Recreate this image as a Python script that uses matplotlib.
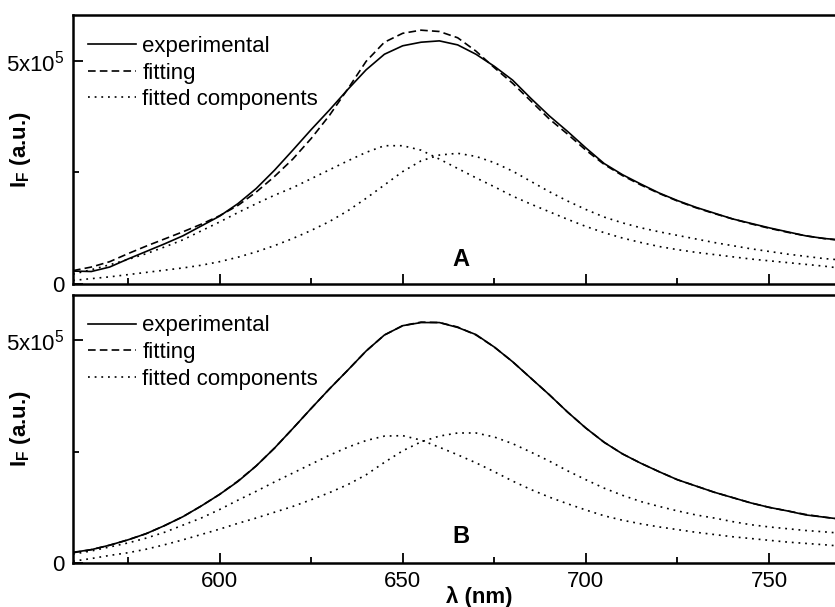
import matplotlib
matplotlib.use("Agg")
import matplotlib.pyplot as plt
import numpy as np

plt.rcParams['font.family'] = ['Liberation Sans', 'DejaVu Sans']
plt.rcParams['mathtext.fontset'] = 'custom'
plt.rcParams['mathtext.rm'] = 'Liberation Sans'
plt.rcParams['mathtext.it'] = 'Liberation Sans:italic'
plt.rcParams['mathtext.bf'] = 'Liberation Sans:bold'
plt.rcParams['lines.scale_dashes'] = False

# wavelength grid (nm)
wavelength = [560, 565, 570, 575, 580, 585, 590, 595, 600, 605, 610, 615, 620, 625,
              630, 635, 640, 645, 650, 655, 660, 665, 670, 675, 680, 685, 690, 695,
              700, 705, 710, 715, 720, 725, 730, 735, 740, 745, 750, 755, 760, 765, 768]

# Intensities in units of 1e5 a.u.
A_experimental = [0.29, 0.28, 0.38, 0.56, 0.73, 0.90, 1.08, 1.30, 1.52, 1.80, 2.14, 2.55, 3.00, 3.46,
                  3.90, 4.36, 4.80, 5.15, 5.34, 5.42, 5.45, 5.36, 5.15, 4.88, 4.57, 4.16, 3.77, 3.42,
                  3.05, 2.70, 2.45, 2.24, 2.04, 1.87, 1.72, 1.59, 1.46, 1.36, 1.26, 1.17, 1.08, 1.02, 1.00]
A_fitting = [0.30, 0.38, 0.50, 0.68, 0.85, 1.01, 1.17, 1.34, 1.53, 1.76, 2.06, 2.41, 2.80, 3.26,
             3.78, 4.37, 4.99, 5.42, 5.62, 5.69, 5.66, 5.52, 5.22, 4.85, 4.50, 4.10, 3.70, 3.36,
             3.00, 2.68, 2.43, 2.22, 2.03, 1.86, 1.71, 1.58, 1.46, 1.35, 1.25, 1.16, 1.08, 1.02, 0.99]
A_component1 = [0.22, 0.32, 0.43, 0.55, 0.68, 0.83, 0.99, 1.19, 1.39, 1.60, 1.80, 1.99, 2.16, 2.36,
                2.56, 2.76, 2.95, 3.10, 3.10, 3.00, 2.80, 2.59, 2.38, 2.18, 1.97, 1.79, 1.62, 1.45,
                1.29, 1.15, 1.03, 0.93, 0.84, 0.77, 0.71, 0.66, 0.61, 0.56, 0.52, 0.48, 0.44, 0.40, 0.37]
A_component2 = [0.08, 0.12, 0.16, 0.21, 0.26, 0.31, 0.36, 0.42, 0.50, 0.60, 0.72, 0.86, 1.02, 1.20,
                1.40, 1.64, 1.92, 2.22, 2.52, 2.76, 2.89, 2.93, 2.86, 2.72, 2.53, 2.30, 2.07, 1.86,
                1.67, 1.50, 1.37, 1.26, 1.17, 1.09, 1.01, 0.93, 0.86, 0.79, 0.73, 0.67, 0.62, 0.57, 0.55]

B_experimental = [0.24, 0.30, 0.40, 0.52, 0.66, 0.84, 1.04, 1.28, 1.54, 1.83, 2.18, 2.58, 3.02, 3.47,
                  3.91, 4.33, 4.76, 5.12, 5.33, 5.40, 5.40, 5.29, 5.13, 4.85, 4.52, 4.15, 3.78, 3.39,
                  3.03, 2.71, 2.45, 2.24, 2.05, 1.87, 1.73, 1.59, 1.47, 1.35, 1.25, 1.17, 1.08, 1.03, 1.00]
B_fitting = [0.23, 0.30, 0.40, 0.52, 0.66, 0.84, 1.04, 1.28, 1.54, 1.84, 2.18, 2.58, 3.02, 3.47,
             3.91, 4.33, 4.76, 5.12, 5.33, 5.41, 5.40, 5.30, 5.12, 4.85, 4.52, 4.15, 3.78, 3.39,
             3.03, 2.71, 2.45, 2.24, 2.05, 1.87, 1.73, 1.59, 1.47, 1.35, 1.25, 1.17, 1.09, 1.03, 1.00]
B_component1 = [0.20, 0.27, 0.36, 0.45, 0.56, 0.69, 0.85, 1.01, 1.20, 1.41, 1.61, 1.82, 2.02, 2.22,
                2.42, 2.60, 2.75, 2.85, 2.86, 2.76, 2.60, 2.43, 2.25, 2.05, 1.84, 1.65, 1.48, 1.33,
                1.19, 1.06, 0.96, 0.88, 0.81, 0.75, 0.69, 0.64, 0.59, 0.55, 0.51, 0.47, 0.44, 0.41, 0.39]
B_component2 = [0.04, 0.10, 0.17, 0.23, 0.31, 0.41, 0.52, 0.64, 0.76, 0.89, 1.01, 1.14, 1.27, 1.42,
                1.58, 1.76, 1.98, 2.26, 2.52, 2.72, 2.85, 2.92, 2.92, 2.83, 2.68, 2.49, 2.29, 2.07,
                1.87, 1.68, 1.52, 1.38, 1.27, 1.17, 1.08, 1.01, 0.93, 0.86, 0.81, 0.77, 0.73, 0.70, 0.68]

panel_labels = ["A", "B"]
legend_labels = ["experimental", "fitting", "fitted components"]
ytick_values = [0, 5]
ytick_labels = ["0", "5x10$^5$"]
xtick_values = [600, 650, 700, 750]

W, H = 835, 607
fig = plt.figure(figsize=(W / 100, H / 100), dpi=100)

def fx(px):
    return px / W

def fy(py):
    return 1 - py / H

ax_top = fig.add_axes([fx(73), fy(284), fx(835) - fx(73), fy(15) - fy(284)])
ax_bot = fig.add_axes([fx(73), fy(563), fx(835) - fx(73), fy(294.5) - fy(563)])

panels = [
    (ax_top, A_experimental, A_fitting, A_component1, A_component2, panel_labels[0], 0.54),
    (ax_bot, B_experimental, B_fitting, B_component1, B_component2, panel_labels[1], 0.59),
]

dotted = (0, (1.3, 3.5))
dashed = (0, (5.5, 3.0))

for ax, exp_, fit_, c1, c2, lab, ylab in panels:
    ax.plot(wavelength, exp_, color='black', lw=1.2, ls='-', label=legend_labels[0])
    ax.plot(wavelength, fit_, color='black', lw=1.2, ls=dashed, label=legend_labels[1])
    ax.plot(wavelength, c1, color='black', lw=1.2, ls=dotted, label=legend_labels[2])
    ax.plot(wavelength, c2, color='black', lw=1.2, ls=dotted)
    ax.set_xlim(560, 768)
    ax.set_ylim(0, 6.03)
    ax.set_yticks(ytick_values)
    ax.set_yticklabels(ytick_labels)
    ax.set_yticks([2.5], minor=True)
    ax.set_xticks(xtick_values)
    ax.set_xticks([575, 625, 675, 725], minor=True)
    ax.tick_params(axis='both', which='major', direction='in', length=7, width=1.3,
                   labelsize=16, pad=6)
    ax.tick_params(axis='both', which='minor', direction='in', length=4, width=1.3)
    ax.tick_params(axis='x', which='both', top=False)
    ax.tick_params(axis='y', which='both', right=False)
    for s in ['left', 'bottom', 'top']:
        ax.spines[s].set_linewidth(1.8)
    ax.spines['right'].set_visible(False)
    ax.text(666, ylab, lab, fontsize=17, fontweight='bold', ha='center', va='center')
    ax.set_ylabel(r'$\mathbf{I_F}$ (a.u.)', fontsize=16, fontweight='bold')
    ax.yaxis.set_label_coords(-0.052, 0.5)
    leg = ax.legend(loc='upper left', frameon=False, fontsize=16, handlelength=2.15,
                    handletextpad=0.3, labelspacing=0.25, borderaxespad=0.0,
                    bbox_to_anchor=(0.008, 0.955))

ax_top.tick_params(axis='x', labelbottom=False)
ax_bot.set_xlabel('λ (nm)', fontsize=16, fontweight='bold')
ax_bot.xaxis.set_label_coords((479 - 73) / 762, -0.085)

fig.savefig('out.png', dpi=100)
